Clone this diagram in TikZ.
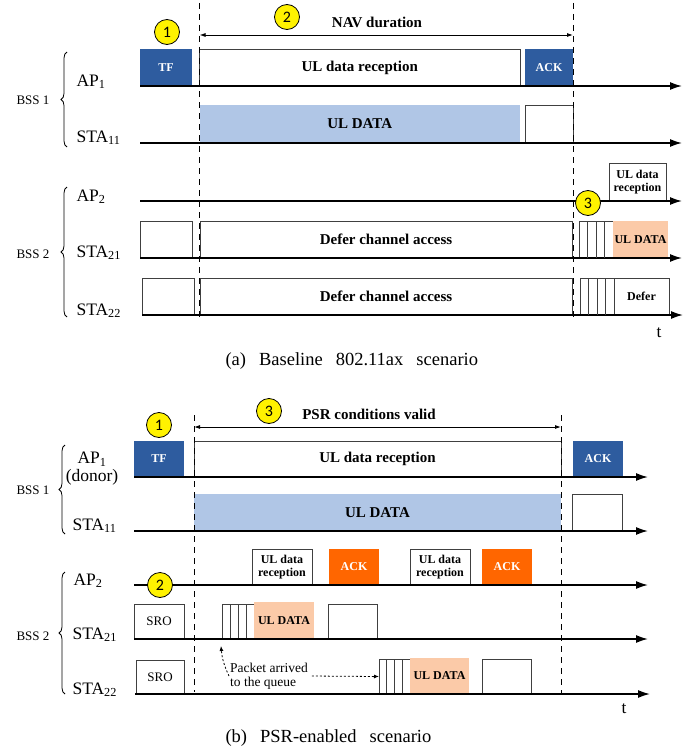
\documentclass[tikz,border=0pt]{standalone}
\usepackage{fontspec}
\setmainfont{Liberation Serif}
\newfontfamily\numfont{Carlito}
\usetikzlibrary{arrows.meta,calc,fit,decorations.pathreplacing}

\definecolor{tfblue}{HTML}{2E5C9F}
\definecolor{datablue}{HTML}{B0C6E6}
\definecolor{datasalmon}{HTML}{FBCAA8}
\definecolor{ackorange}{HTML}{FF6600}
\definecolor{edgegray}{HTML}{404040}

\begin{document}
\begin{tikzpicture}[x=1pt,y=-1pt,
  bare/.style={inner sep=0pt, outer sep=0pt},
  box/.style={bare, draw=edgegray, line width=0.9pt, fill=white},
  big/.style={font=\bfseries\fontsize{15}{17}\selectfont},
  small/.style={font=\bfseries\fontsize{12}{13}\selectfont, align=center},
  light/.style={text=white, font=\bfseries\fontsize{12}{14}\selectfont},
  ctrl/.style={bare, fill=tfblue},
  ack/.style={bare, fill=ackorange},
  ul/.style={bare, fill=datablue},
  ulx/.style={bare, fill=datasalmon},
  axis/.style={line width=1.5pt, -{Latex[length=12pt,width=8pt]}},
  limit/.style={line width=1pt, dash pattern=on 6pt off 5pt},
  navspan/.style={line width=0.9pt, {Latex[length=6pt,width=4pt]}-{Latex[length=6pt,width=4pt]}},
  badge/.style={circle, draw, line width=0.8pt, fill=yellow, minimum size=25pt, inner sep=0pt, font=\numfont\fontsize{16}{16}\selectfont},
  who/.style={font=\fontsize{17.5}{18}\selectfont},
  bss/.style={font=\fontsize{13}{15}\selectfont},
  brc/.style={decorate, decoration={brace, amplitude=6pt}, line width=0.8pt},
  pkt/.style={dash pattern=on 2pt off 2pt, line width=0.8pt, -{Latex[length=5pt,width=4pt]}},
  subcap/.style={font=\fontsize{18.5}{20}\selectfont}]
\useasboundingbox (0,0) rectangle (699,752);

% (a) baseline
\node[ctrl, fit={(140,49) (192,86)}, label={[light]center:TF}] (tfA) {};
\node[box, fit={(199.5,49) (520,86)}, label={[big]center:UL data reception}] (recA) {};
\node[ctrl, fit={(525,49) (573,86)}, label={[light]center:ACK}] (ackA) {};
\node[ul, fit={(199.5,105) (520,143)}, label={[big]center:UL DATA}] (ulA) {};
\node[box, fit={(525,105) (573,143)}] (emA) {};
\node[box, fit={(609,163) (666,201)}, label={[small]center:UL data\\reception}] (recA2) {};
\node[box, fit={(140,221) (192,258)}] (emA1) {};
\node[box, fit={(200,221) (572,258)}, label={[big]center:Defer channel access}] (defA1) {};
\node[box, fit={(579,221) (613,258)}] (boA1) {};
\node[ulx, fit={(613,221) (668,258)}, label={[small]center:UL DATA}] (ulA2) {};
\node[box, fit={(142,278) (194,315)}] (emA2) {};
\node[box, fit={(200,278) (572,315)}, label={[big]center:Defer channel access}] (defA2) {};
\node[box, fit={(580,278) (614,315)}] (boA2) {};
\node[box, fit={(614,278) (669,315)}, label={[small]center:Defer}] (deferA) {};

\foreach \y in {86,143,201,258}
  \draw[axis] (140,\y) -- (682,\y);
\draw[axis] (142,315) -- (683,315);

\draw[limit] (199.5,3) -- (199.5,318);
\draw[limit] (573,3) -- (573,318);
\coordinate (navL) at (199.5,35);
\coordinate (navR) at (573,35);
\draw[navspan] (navL) -- (navR);
\node[big, anchor=base] (navA) at (377,28) {NAV duration};

\node[who, anchor=base west] (ap1A) at (73,86) {AP\textsubscript{1}};
\node[who, anchor=base west] (sta11A) at (73,142) {STA\textsubscript{11}};
\node[who, anchor=base west] (ap2A) at (73,201) {AP\textsubscript{2}};
\node[who, anchor=base west] (sta21A) at (73,257) {STA\textsubscript{21}};
\node[who, anchor=base west] (sta22A) at (73,315) {STA\textsubscript{22}};
\node[bss, anchor=base west] (bss1A) at (13,104) {BSS 1};
\node[bss, anchor=base west] (bss2A) at (13,258) {BSS 2};
\draw[brc] (67,147) -- (67,52);
\draw[brc] (67,317) -- (67,187);

\node[badge] (n1A) at (167,32) {1};
\node[badge] (n2A) at (287,17) {2};
\node[badge] (n3A) at (588,203) {3};
\node[who, anchor=base] (tA) at (659,337) {t};
\node[subcap, anchor=base west] (capA) at (222,365) {\spaceskip=13pt\relax(a) Baseline 802.11ax scenario};

% (b) PSR-enabled
\node[ctrl, fit={(134,441) (184,477)}, label={[light]center:TF}] (tfB) {};
\node[box, fit={(194,441) (561,477)}, label={[big]center:UL data reception}] (recB) {};
\node[ctrl, fit={(573,441) (623,477)}, label={[light]center:ACK}] (ackB) {};
\node[ul, fit={(194,494) (561,531)}, label={[big]center:UL DATA}] (ulB) {};
\node[box, fit={(572,494) (622,530)}] (emB) {};
\node[box, fit={(252,549) (312,585)}, label={[small]center:UL data\\reception}] (recB1) {};
\node[ack, fit={(329,549) (379,585)}, label={[light]center:ACK}] (ackB1) {};
\node[box, fit={(410,549) (470,585)}, label={[small]center:UL data\\reception}] (recB2) {};
\node[ack, fit={(482,549) (532,585)}, label={[light]center:ACK}] (ackB2) {};
\node[box, fit={(134,604) (184,639)}, label={[font=\fontsize{13}{15}\selectfont]center:SRO}] (sroB1) {};
\node[box, fit={(222,604) (254,639)}] (boB1) {};
\node[ulx, fit={(254,602) (314,639)}, label={[small]center:UL DATA}] (ulB1) {};
\node[box, fit={(328,604) (377,639)}] (emB1) {};
\node[box, fit={(136,660) (184,694)}, label={[font=\fontsize{13}{15}\selectfont]center:SRO}] (sroB2) {};
\node[box, fit={(379,659) (410,694)}] (boB2) {};
\node[ulx, fit={(410,658) (469,694)}, label={[small]center:UL DATA}] (ulB2) {};
\node[box, fit={(482,659) (531,694)}] (emB2) {};

\foreach \b in {boA1,boA2,boB1,boB2}
  \foreach \k in {1,2,3}
    \draw[draw=edgegray, line width=0.9pt] ($(\b.south west)!\k/4!(\b.south east)$) -- ($(\b.north west)!\k/4!(\b.north east)$);

\foreach \y in {477,531,585,639}
  \draw[axis] (134,\y) -- (648,\y);
\draw[axis] (135,694) -- (650,694);

\draw[limit] (194,415) -- (194,692);
\draw[limit] (561,415) -- (561,693);
\coordinate (psrL) at (194,427);
\coordinate (psrR) at (561,427);
\draw[navspan] (psrL) -- (psrR);
\node[big, anchor=base] (psrB) at (369,419) {PSR conditions valid};

\node[who, align=center] (ap1B) at (92,469) {AP\textsubscript{1}\\(donor)};
\node[who, anchor=base west] (sta11B) at (69,530) {STA\textsubscript{11}};
\node[who, anchor=base west] (ap2B) at (70,585) {AP\textsubscript{2}};
\node[who, anchor=base west] (sta21B) at (69,639) {STA\textsubscript{21}};
\node[who, anchor=base west] (sta22B) at (69,694) {STA\textsubscript{22}};
\node[bss, anchor=base west] (bss1B) at (13,494) {BSS 1};
\node[bss, anchor=base west] (bss2B) at (13,640) {BSS 2};
\draw[brc] (65,534) -- (65,445);
\draw[brc] (65,694) -- (65,572);

\node[font=\fontsize{13.5}{14}\selectfont, align=left, anchor=west, inner sep=1pt] (pkt) at (229,676) {Packet arrived\\to the queue};
\draw[pkt] (pkt.west) to[bend left=10] ($(boB1.south west)+(-1,7)$);
\draw[pkt, shorten <=3pt] (pkt.east) -- (boB2.west);

\node[badge] (n1B) at (159,425) {1};
\node[badge] (n3B) at (269,411) {3};
\node[badge] (n2B) at (160,585) {2};
\node[who, anchor=base] (tB) at (624,713) {t};
\node[subcap, anchor=base west] (capB) at (222,742) {\spaceskip=13pt\relax(b) PSR-enabled scenario};
\end{tikzpicture}
\end{document}
